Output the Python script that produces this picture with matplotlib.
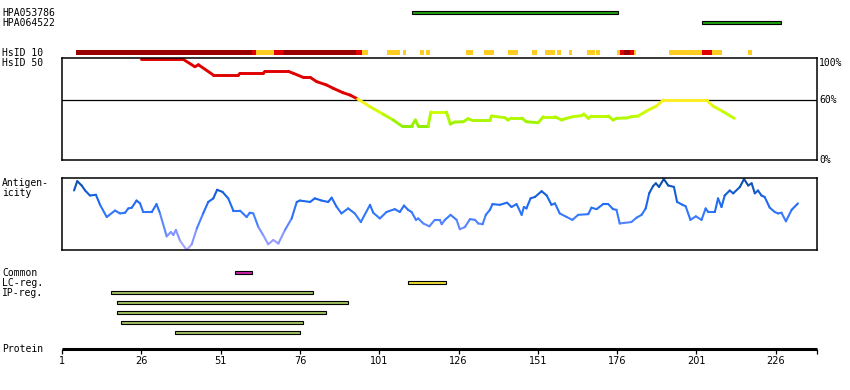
import numpy as np
import matplotlib
matplotlib.use("Agg")
import matplotlib.pyplot as plt
from matplotlib.collections import LineCollection
from matplotlib.colors import LinearSegmentedColormap, to_rgba

# ---------------- data ----------------
antibody_names = ["HPA053786", "HPA064522"]
antibody_start = [111.2, 202.8]
antibody_end = [176.2, 227.7]

# HsID 10 track: level 2 = dark red, 1 = red, 0 = yellow
hsid10_start = [5.4, 60.9, 62.1, 67.8, 70.6, 93.7, 95.5, 103.4, 108.4, 114.0, 115.8,
                128.4, 134.1, 141.6, 149.3, 153.3, 156.9, 160.8, 166.4, 169.4, 176.0,
                176.9, 178.1, 180.2, 181.2, 192.2, 202.7, 205.9, 217.1]
hsid10_end = [60.9, 62.1, 67.8, 70.6, 93.7, 95.5, 97.5, 107.7, 109.5, 115.2, 117.1,
              130.5, 137.1, 144.9, 150.6, 156.3, 158.3, 161.9, 168.9, 170.6, 176.9,
              178.1, 180.2, 181.2, 182.0, 202.7, 205.9, 209.0, 218.5]
hsid10_level = [2, 1, 0, 1, 2, 1, 0, 0, 0, 0, 0,
                0, 0, 0, 0, 0, 0, 0, 0, 0, 0,
                1, 2, 1, 0, 0, 1, 0, 0]

# HsID 50 curve (% identity)
hsid50_pos = [25.9, 39.2, 42.9, 44.0, 48.7, 56.6, 57.1, 64.4, 65.0, 72.3, 73.9, 77.0,
              79.2, 81.3, 84.4, 86.5, 89.6, 91.8, 94.2, 98.1, 102.3, 105.4, 108.1,
              111.2, 112.4, 113.3, 116.4, 117.3, 122.2, 123.4, 124.8, 127.5, 129.0,
              130.1, 135.9, 136.4, 140.6, 141.6, 142.7, 145.9, 147.4, 151.1, 152.7,
              156.4, 158.5, 160.0, 162.1, 164.8, 165.5, 166.9, 167.9, 173.2, 174.7,
              175.8, 179.0, 180.5, 182.6, 185.3, 188.4, 190.5, 204.2, 206.2, 209.4, 212.9]
hsid50_pct = [100, 100, 92.6, 94.6, 84.4, 84.4, 86.1, 86.1, 88.1, 88.1, 86.1, 82.1,
              82.1, 77.8, 74.5, 71.2, 66.8, 64.5, 60.6, 52.9, 45.4, 39.7, 33.8,
              33.8, 39.7, 33.8, 33.8, 47.7, 47.7, 35.7, 37.7, 38.0, 41.0,
              39.7, 39.7, 43.7, 42.0, 39.7, 41.7, 41.7, 38.0, 37.0, 43.0,
              43.0, 39.7, 41.4, 43.0, 44.0, 45.7, 41.4, 43.7, 43.7, 39.7,
              41.4, 41.7, 43.0, 43.7, 48.7, 53.6, 59.5, 59.5, 53.6, 48.0, 41.4]

# Antigenicity (relative, 0..1)
antigen_pos = [4.8, 5.8, 7.2, 8.3, 9.8, 11.7, 13.0, 15.1, 17.7, 19.3, 20.9, 21.9, 23.0,
               24.5, 25.6, 26.6, 29.3, 30.8, 31.9, 34.0, 35.3, 36.1, 36.9, 38.2, 40.3,
               41.9, 43.5, 45.5, 47.1, 48.7, 49.9, 51.6, 53.4, 55.0, 57.1, 59.2, 60.2,
               61.3, 62.9, 64.4, 66.0, 67.6, 69.2, 71.3, 73.4, 75.0, 76.0, 79.2, 80.7,
               82.8, 84.9, 86.0, 87.6, 89.1, 91.2, 93.3, 95.2, 98.1, 99.1, 101.2, 103.3,
               105.9, 107.5, 108.8, 110.1, 111.2, 112.6, 113.3, 114.9, 116.8, 118.5,
               120.1, 120.7, 121.7, 123.5, 125.4, 126.4, 128.0, 129.6, 131.2, 132.2,
               133.6, 134.6, 135.9, 136.7, 139.0, 141.3, 142.7, 144.3, 145.9, 146.6,
               147.4, 148.7, 150.1, 152.2, 153.8, 155.3, 156.4, 157.9, 160.1, 161.9,
               163.7, 166.9, 167.9, 169.5, 171.6, 173.2, 174.7, 175.8, 176.8, 180.5,
               182.1, 183.7, 185.0, 186.1, 187.3, 188.2, 189.2, 190.7, 192.1, 193.9,
               194.9, 196.6, 197.6, 199.1, 200.8, 202.6, 203.9, 204.7, 206.8, 207.8,
               208.9, 209.9, 211.5, 212.6, 214.7, 216.0, 217.3, 218.4, 219.4, 220.4,
               221.5, 222.5, 224.1, 225.7, 226.7, 227.8, 229.2, 231.0, 233.0]
antigen_val = [0.83, 0.96, 0.90, 0.83, 0.76, 0.77, 0.63, 0.46, 0.55, 0.51, 0.52, 0.58, 0.59,
               0.69, 0.65, 0.53, 0.53, 0.64, 0.51, 0.19, 0.25, 0.21, 0.28, 0.13, 0.00,
               0.08, 0.30, 0.51, 0.67, 0.72, 0.84, 0.81, 0.72, 0.55, 0.55, 0.46, 0.52,
               0.51, 0.32, 0.21, 0.08, 0.14, 0.09, 0.28, 0.44, 0.67, 0.69, 0.67, 0.72,
               0.69, 0.67, 0.73, 0.60, 0.51, 0.58, 0.51, 0.39, 0.63, 0.52, 0.44, 0.53,
               0.57, 0.53, 0.62, 0.56, 0.53, 0.42, 0.44, 0.37, 0.33, 0.42,
               0.42, 0.36, 0.42, 0.49, 0.42, 0.29, 0.32, 0.43, 0.42, 0.37,
               0.36, 0.49, 0.56, 0.64, 0.63, 0.66, 0.60, 0.64, 0.49, 0.60,
               0.58, 0.72, 0.74, 0.82, 0.76, 0.63, 0.65, 0.51, 0.46, 0.42,
               0.49, 0.50, 0.59, 0.57, 0.64, 0.64, 0.57, 0.56, 0.37, 0.39,
               0.45, 0.49, 0.58, 0.79, 0.89, 0.93, 0.88, 0.99, 0.90, 0.88,
               0.67, 0.63, 0.61, 0.42, 0.47, 0.42, 0.58, 0.53, 0.53, 0.72,
               0.60, 0.76, 0.83, 0.79, 0.88, 0.99, 0.90, 0.93, 0.79, 0.83,
               0.76, 0.74, 0.59, 0.53, 0.51, 0.52, 0.40, 0.56, 0.65]

region_labels = ["Common", "LC-reg.", "IP-reg.", "", "", "", ""]
region_start = [55.6, 110.1, 16.5, 18.4, 18.4, 19.7, 36.7]
region_end = [60.8, 122.2, 80.0, 91.0, 84.1, 76.9, 75.9]
region_kind = ["common", "lc", "ip", "ip", "ip", "ip", "ip"]

protein_ticks = [1, 26, 51, 76, 101, 126, 151, 176, 201, 226]
protein_start, protein_end = 1, 239

# ---------------- layout / style ----------------
W, H = 850, 390
X0, X1 = 62, 817
scale = (X1 - X0) / (protein_end - protein_start)
MONO = ["DejaVu Sans Mono"]
NARROW = ["Liberation Sans Narrow", "DejaVu Sans"]

fig = plt.figure(figsize=(W / 100, H / 100), dpi=100)


def px2r(px):
    return protein_start + (px - X0) / scale


def box(top, bottom):
    return [X0 / W, 1 - bottom / H, (X1 - X0) / W, (bottom - top) / H]


bg = fig.add_axes([0, 0, 1, 1])
bg.set_xlim(px2r(0), px2r(W))
bg.set_ylim(H, 0)
bg.axis("off")

# antibody bars
for i, (s, e) in enumerate(zip(antibody_start, antibody_end)):
    bg.barh(12.5 + 10 * i, e - s, left=s, height=3.7, color="#22a012",
            edgecolor="black", linewidth=0.8)
    bg.text(px2r(2), 13 + 10 * i, antibody_names[i], family=MONO, fontsize=7,
            va="center", ha="left")

# HsID 10 track
lvl_colors = {0: "#ffcc22", 1: "#e00000", 2: "#990000"}
for s, e, l in zip(hsid10_start, hsid10_end, hsid10_level):
    bg.barh(52.5, e - s, left=s, height=5, color=lvl_colors[l], linewidth=0)

labels_left = [("HsID 10", 52.5), ("HsID 50", 62.5), ("Antigen-", 183.5),
               ("icity", 193), ("Protein", 349)]
for t, y in labels_left:
    bg.text(px2r(2), y, t, family=MONO, fontsize=7, va="center", ha="left")

for t, y in [("100%", 62.5), ("60%", 100.3), ("0%", 160)]:
    bg.text(px2r(819), y, t, family=MONO, fontsize=7, va="center", ha="left")

# regions
rcol = {"common": "#cc22aa", "lc": "#eedd33", "ip": "#a0c060"}
for i, (s, e, k) in enumerate(zip(region_start, region_end, region_kind)):
    bg.barh(272.5 + 10 * i, e - s, left=s, height=3.7, color=rcol[k],
            edgecolor="black", linewidth=0.8)
    if region_labels[i]:
        bg.text(px2r(2), 273 + 10 * i, region_labels[i], family=MONO, fontsize=7,
                va="center", ha="left")

# protein axis
bg.plot([protein_start, protein_end], [349.3, 349.3], color="black", lw=2.2,
        solid_capstyle="butt")
bg.vlines(protein_ticks + [protein_end], 349, 354, color="black", lw=0.9)
for t in protein_ticks:
    bg.text(t, 361.5, str(t), family=NARROW, fontsize=7, va="center", ha="center")

# HsID 50 panel
ax1 = fig.add_axes(box(58, 160))
ax1.set_xlim(protein_start, protein_end)
ax1.set_ylim(0, 101.3)
ax1.set_xticks([])
ax1.set_yticks([])
for sp in ax1.spines.values():
    sp.set_linewidth(1.1)
ax1.axhline(60, color="black", lw=0.9)
id_cmap = LinearSegmentedColormap.from_list("id", ["#88ee00", "#c8ff00", "#ffee22"])
x = np.array(hsid50_pos)
y = np.array(hsid50_pct)
segs = np.stack([np.column_stack([x[:-1], y[:-1]]), np.column_stack([x[1:], y[1:]])], axis=1)
cols = []
for a, b in zip(y[:-1], y[1:]):
    m = (a + b) / 2
    if m > 60.2:
        cols.append(to_rgba("#e00000"))
    else:
        cols.append(id_cmap(np.clip((m - 33) / 27, 0, 1)))
ax1.add_collection(LineCollection(segs, colors=cols, linewidths=2.1, capstyle="round"))

# antigenicity panel
ax2 = fig.add_axes(box(178.3, 250))
ax2.set_xlim(protein_start, protein_end)
ax2.set_ylim(0, 1)
ax2.set_xticks([])
ax2.set_yticks([])
for sp in ax2.spines.values():
    sp.set_linewidth(1.1)
ag_cmap = LinearSegmentedColormap.from_list(
    "ag", [(0, "#b0a8ff"), (0.3, "#6f8cff"), (0.45, "#3a7cff"), (0.7, "#1a66ee"), (1, "#0a4a9a")])
x = np.array(antigen_pos)
y = np.array(antigen_val)
segs = np.stack([np.column_stack([x[:-1], y[:-1]]), np.column_stack([x[1:], y[1:]])], axis=1)
cols = [ag_cmap((a + b) / 2) for a, b in zip(y[:-1], y[1:])]
ax2.add_collection(LineCollection(segs, colors=cols, linewidths=1.5, capstyle="round"))

fig.savefig("out.png", dpi=100)
